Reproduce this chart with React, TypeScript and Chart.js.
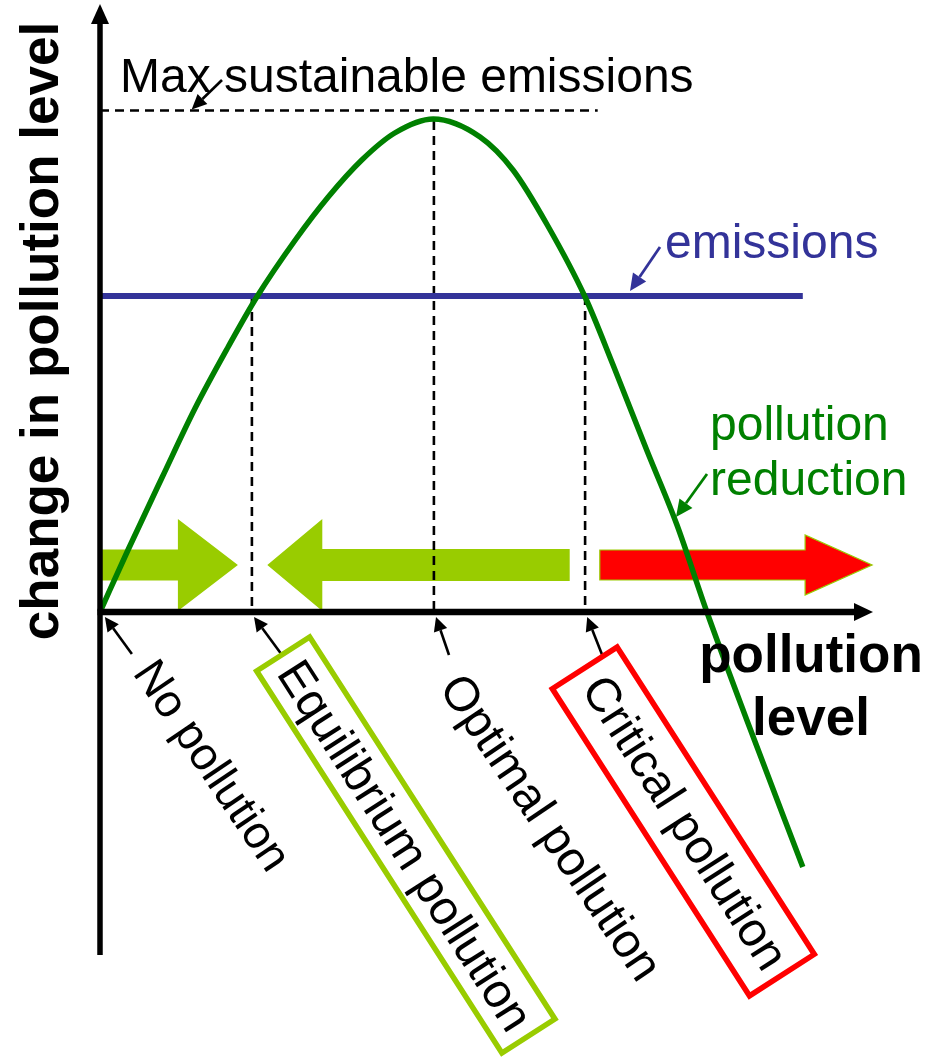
import React, { useEffect, useRef } from "react";
import { Chart, registerables } from "chart.js";

Chart.register(...registerables);

// ---- data (in chart units: x = pollution level, y = change in pollution level) ----
const curveX = [0, 0.4, 0.89, 1.36, 1.83, 2.24, 2.79, 3.26, 3.74, 4.21, 4.76, 5.43, 5.9, 6.39, 6.93, 7.33, 7.81, 8.24, 8.67, 9.24, 10.04];
const curveY = [0, 1.24, 2.7, 4.08, 5.3, 6.3, 7.44, 8.3, 9.04, 9.58, 9.86, 9.5, 8.84, 7.74, 6.3, 4.94, 3.24, 1.75, 0, -2.16, -5.1];

const emissionsX = [0, 10.04];
const emissionsY = [6.32, 6.32];

const maxSustX = [0, 7.11];
const maxSustY = [10.03, 10.03];

// vertical guides: equilibrium, optimal, critical
const guideX = [2.17, 4.77, 6.93];
const guideTop = [6.3, 9.82, 6.32];

// flow arrows (direction of change of pollution)
const flowFrom = [0, 6.71, 7.14];
const flowTo = [1.97, 2.39, 11.03];
const flowLevel = 0.94;

// labels under the x axis and the x value their arrows point at
const pointLabels = ["No pollution", "Equilibrium pollution", "Optimal pollution", "Critical pollution"];
const pointLabelX = [0.07, 2.2, 4.8, 6.96];

const FONT = "'Liberation Sans', Arial, Helvetica, sans-serif";
const GREEN = "#008000";
const LIME = "#99cc00";
const NAVY = "#333399";
const RED = "#ff0000";

const flowStyles = [
  { color: LIME, shaft: 15.5, headH: 46, head: 60, outline: null as string | null },
  { color: LIME, shaft: 16, headH: 46, head: 55, outline: null as string | null },
  { color: RED, shaft: 15, headH: 30, head: 67, outline: LIME as string | null },
];

function arrow(ctx: CanvasRenderingContext2D, x1: number, y1: number, x2: number, y2: number, color: string, lw: number, hl: number, hw: number) {
  const a = Math.atan2(y2 - y1, x2 - x1);
  const bx = x2 - hl * Math.cos(a);
  const by = y2 - hl * Math.sin(a);
  ctx.save();
  ctx.strokeStyle = color;
  ctx.fillStyle = color;
  ctx.lineWidth = lw;
  ctx.setLineDash([]);
  ctx.beginPath();
  ctx.moveTo(x1, y1);
  ctx.lineTo(bx, by);
  ctx.stroke();
  ctx.beginPath();
  ctx.moveTo(x2, y2);
  ctx.lineTo(bx + hw * Math.sin(a), by - hw * Math.cos(a));
  ctx.lineTo(bx - hw * Math.sin(a), by + hw * Math.cos(a));
  ctx.closePath();
  ctx.fill();
  ctx.restore();
}

const decor = {
  id: "decor",
  beforeDatasetsDraw(chart: any) {
    const { ctx, scales } = chart;
    const xs = scales.x, ys = scales.y;
    const yc = ys.getPixelForValue(flowLevel);
    flowFrom.forEach((f, i) => {
      const st = flowStyles[i];
      const x0 = xs.getPixelForValue(f);
      const x1 = xs.getPixelForValue(flowTo[i]);
      const dir = Math.sign(x1 - x0);
      const hb = x1 - dir * st.head;
      ctx.save();
      ctx.beginPath();
      ctx.moveTo(x0, yc - st.shaft);
      ctx.lineTo(hb, yc - st.shaft);
      ctx.lineTo(hb, yc - st.headH);
      ctx.lineTo(x1, yc);
      ctx.lineTo(hb, yc + st.headH);
      ctx.lineTo(hb, yc + st.shaft);
      ctx.lineTo(x0, yc + st.shaft);
      ctx.closePath();
      ctx.fillStyle = st.color;
      ctx.fill();
      if (st.outline) {
        ctx.strokeStyle = st.outline;
        ctx.lineWidth = 1.2;
        ctx.stroke();
      }
      ctx.restore();
    });
  },
  afterDatasetsDraw(chart: any) {
    const { ctx, scales } = chart;
    const xs = scales.x, ys = scales.y;
    const ox = xs.getPixelForValue(0);
    const oy = ys.getPixelForValue(0);

    // axes
    ctx.save();
    ctx.strokeStyle = "#000";
    ctx.fillStyle = "#000";
    ctx.lineWidth = 5.5;
    ctx.beginPath();
    ctx.moveTo(ox, 955);
    ctx.lineTo(ox, 22);
    ctx.stroke();
    ctx.beginPath();
    ctx.moveTo(ox, 4);
    ctx.lineTo(ox - 9, 24);
    ctx.lineTo(ox + 9, 24);
    ctx.closePath();
    ctx.fill();
    ctx.lineWidth = 6.5;
    ctx.beginPath();
    ctx.moveTo(ox - 2.5, oy);
    ctx.lineTo(856, oy);
    ctx.stroke();
    ctx.beginPath();
    ctx.moveTo(873, oy);
    ctx.lineTo(854, oy - 9);
    ctx.lineTo(854, oy + 9);
    ctx.closePath();
    ctx.fill();
    ctx.restore();

    // callout arrows
    arrow(ctx, 222, 80, xs.getPixelForValue(1.31), ys.getPixelForValue(maxSustY[0]) - 1, "#000", 2.6, 15, 7);
    arrow(ctx, 660, 247, 630, ys.getPixelForValue(emissionsY[0]) - 5, NAVY, 2.8, 17, 8);
    arrow(ctx, 707, 474, 676, 517, GREEN, 2.8, 17, 8);

    const tails = [[27, 37], [28, 38], [13, 38], [15, 38]];
    pointLabelX.forEach((v, i) => {
      const tx = xs.getPixelForValue(v);
      const ty = oy + 5;
      arrow(ctx, tx + tails[i][0], ty + tails[i][1], tx, ty, "#000", 2.6, 14, 7);
    });

    // boxes
    const boxes = [
      { cx: 405.8, cy: 845, L: 454, W: 63, ang: 57.3, color: LIME },
      { cx: 683.3, cy: 821.5, L: 365, W: 77, ang: 57.3, color: RED },
    ];
    boxes.forEach((b) => {
      ctx.save();
      ctx.translate(b.cx, b.cy);
      ctx.rotate((b.ang * Math.PI) / 180);
      ctx.strokeStyle = b.color;
      ctx.lineWidth = 5.5;
      ctx.strokeRect(-b.L / 2, -b.W / 2, b.L, b.W);
      ctx.restore();
    });

    // rotated labels
    ctx.save();
    ctx.fillStyle = "#000";
    ctx.font = `48px ${FONT}`;
    const starts = [
      { text: pointLabels[0], x: 132, y: 673, ang: 56, size: 46 },
      { text: pointLabels[2], x: 438, y: 688, ang: 56, size: 48 },
    ];
    starts.forEach((s) => {
      ctx.save();
      ctx.font = `${s.size}px ${FONT}`;
      ctx.translate(s.x, s.y);
      ctx.rotate((s.ang * Math.PI) / 180);
      ctx.textAlign = "left";
      ctx.textBaseline = "alphabetic";
      ctx.fillText(s.text, 0, 0);
      ctx.restore();
    });
    const centred = [
      { text: pointLabels[1], x: 406, y: 845, ang: 57.3 },
      { text: pointLabels[3], x: 686, y: 822, ang: 57.3 },
    ];
    centred.forEach((s) => {
      ctx.save();
      ctx.translate(s.x, s.y);
      ctx.rotate((s.ang * Math.PI) / 180);
      ctx.textAlign = "center";
      ctx.textBaseline = "alphabetic";
      ctx.fillText(s.text, 0, 17);
      ctx.restore();
    });

    // horizontal annotations
    ctx.textAlign = "left";
    ctx.textBaseline = "alphabetic";
    ctx.fillStyle = "#000";
    ctx.fillText("Max sustainable emissions", 120, 92);
    ctx.fillStyle = NAVY;
    ctx.fillText("emissions", 665, 258);
    ctx.fillStyle = GREEN;
    ctx.fillText("pollution", 710, 440);
    ctx.fillText("reduction", 710, 495);

    // axis titles
    ctx.fillStyle = "#000";
    ctx.font = `bold 53px ${FONT}`;
    ctx.textAlign = "center";
    ctx.fillText("pollution", 811, 672);
    ctx.fillText("level", 811, 735);
    ctx.save();
    ctx.translate(58, 331);
    ctx.rotate(-Math.PI / 2);
    ctx.fillText("change in pollution level", 0, 0);
    ctx.restore();
    ctx.restore();
  },
};

export default function App() {
  const ref = useRef<HTMLCanvasElement | null>(null);
  useEffect(() => {
    if (!ref.current) return;
    const pts = (xs: number[], ys: number[]) => xs.map((v, i) => ({ x: v, y: ys[i] }));
    const guides = guideX.map((gx, i) => ({
      data: [{ x: gx, y: guideTop[i] }, { x: gx, y: 0 }],
      borderColor: "#000",
      borderWidth: 2.6,
      borderDash: [9, 6],
      showLine: true,
      pointRadius: 0,
      fill: false,
      clip: false as any,
    }));
    const chart = new Chart(ref.current, {
      type: "scatter",
      data: {
        datasets: [
          {
            data: pts(curveX, curveY),
            borderColor: GREEN,
            borderWidth: 5.5,
            showLine: true,
            pointRadius: 0,
            cubicInterpolationMode: "monotone",
            fill: false,
            clip: false as any,
          },
          {
            data: pts(emissionsX, emissionsY),
            borderColor: NAVY,
            borderWidth: 6,
            showLine: true,
            pointRadius: 0,
            fill: false,
            clip: false as any,
          },
          {
            data: pts(maxSustX, maxSustY),
            borderColor: "#000",
            borderWidth: 2.6,
            borderDash: [9, 6],
            showLine: true,
            pointRadius: 0,
            fill: false,
            clip: false as any,
          },
          ...guides,
        ] as any,
      },
      options: {
        animation: false,
        responsive: false,
        devicePixelRatio: 1,
        events: [],
        layout: { padding: { left: 100, right: 137, top: 112, bottom: 145 } },
        plugins: { legend: { display: false }, tooltip: { enabled: false } },
        scales: {
          x: { type: "linear", min: 0, max: 10, display: false },
          y: { type: "linear", min: -6, max: 10, display: false },
        },
      } as any,
      plugins: [decor],
    });
    return () => chart.destroy();
  }, []);
  return (
    <div style={{ position: "fixed", left: 0, top: 0, width: 937, height: 1057, background: "#fff" }}>
      <canvas ref={ref} width={937} height={1057} style={{ display: "block" }} />
    </div>
  );
}
